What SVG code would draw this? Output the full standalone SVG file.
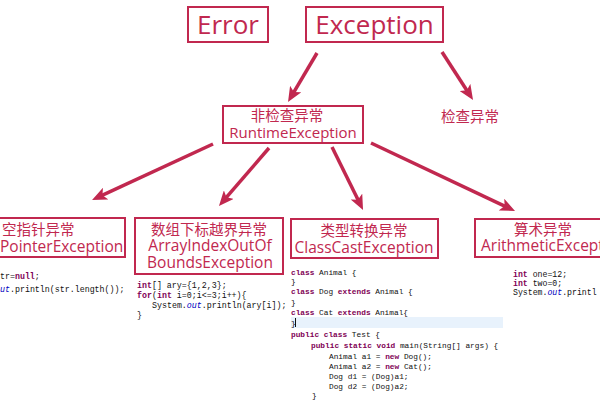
<svg xmlns="http://www.w3.org/2000/svg" width="600" height="400" viewBox="0 0 600 400">
<style>
.box{fill:none;stroke:#c1284f;stroke-width:2}
.lbl{font-family:"Open Sans","Noto Sans CJK SC",sans-serif;fill:#c1284f;text-anchor:middle}
.big{font-size:26px}
.mid{font-size:15.5px}
.cn{font-size:14.5px}
.arr{stroke:#c1284f;stroke-width:3.5;fill:none;marker-end:url(#ah)}
.code{font-family:"Liberation Mono","DejaVu Sans Mono",monospace;fill:#111}
.kw{fill:#7f0055;font-weight:bold}
.fld{fill:#0000c0;font-style:italic}
</style>
<defs>
<marker id="ah" viewBox="0 0 15 13" refX="7" refY="6.5" markerWidth="15" markerHeight="13" markerUnits="userSpaceOnUse" orient="auto">
<path d="M0,0 L15,6.5 L0,13 L3.5,6.5 z" fill="#c1284f"/>
</marker>
</defs>
<rect width="600" height="400" fill="#fff"/>

<g id="connectors">
<path class="arr" d="M317,53 L292.1,95.1"/>
<path class="arr" d="M442,52 L468.7,93.3"/>
<path class="arr" d="M213,144 L99.3,196.6"/>
<path class="arr" d="M269,148 L224.2,199.9"/>
<path class="arr" d="M332,147 L359.5,202.8"/>
<path class="arr" d="M371,143 L507.8,207.6"/>
</g>

<g id="error">
<rect class="box" x="188" y="7" width="80" height="35"/>
<text class="lbl big" x="228" y="34">Error</text>
</g>
<g id="exception">
<rect class="box" x="306" y="7" width="137" height="35"/>
<text class="lbl big" x="374.5" y="34">Exception</text>
</g>
<g id="checked">
<text class="lbl cn" x="470" y="122">检查异常</text>
</g>
<g id="runtime">
<rect class="box" x="223" y="106" width="140" height="37"/>
<text class="lbl cn" x="287" y="121">非检查异常</text>
<text class="lbl mid" x="293" y="138" style="font-size:15px">RuntimeException</text>
</g>

<g id="npe">
<rect class="box" x="-30" y="218" width="155" height="39"/>
<text class="lbl cn" x="2" y="235" style="text-anchor:start">空指针异常</text>
<text class="lbl mid" x="0" y="252" style="text-anchor:start">PointerException</text>
<text class="code" font-size="8.3" x="0" y="279">tr=<tspan class="kw">null</tspan>;</text>
<text class="code" font-size="8.3" x="0" y="292"><tspan class="fld">ut</tspan>.println(str.length());</text>
</g>

<g id="aioobe">
<rect class="box" x="135" y="218" width="148" height="56"/>
<text class="lbl cn" x="209" y="235">数组下标越界异常</text>
<text class="lbl mid" x="210" y="251">ArrayIndexOutOf</text>
<text class="lbl mid" x="210" y="268">BoundsException</text>
<text class="code" font-size="8.3" x="137" y="288"><tspan class="kw">int</tspan>[] ary={1,2,3};</text>
<text class="code" font-size="8.3" x="137" y="298"><tspan class="kw">for</tspan>(<tspan class="kw">int</tspan> i=0;i&lt;=3;i++){</text>
<text class="code" font-size="8.3" x="152" y="308">System.<tspan class="fld">out</tspan>.println(ary[i]);</text>
<text class="code" font-size="8.3" x="137" y="318">}</text>
</g>

<g id="cce">
<rect class="box" x="291" y="219" width="147" height="39"/>
<text class="lbl cn" x="364" y="236">类型转换异常</text>
<text class="lbl mid" x="364" y="253">ClassCastException</text>
<rect x="291" y="317" width="212" height="11" fill="#e8f2fc"/>
<line x1="295.5" y1="318" x2="295.5" y2="327" stroke="#111" stroke-width="1"/>
<g class="code" font-size="7.8">
<text x="291" y="275"><tspan class="kw">class</tspan> Animal {</text>
<text x="291" y="284">}</text>
<text x="291" y="294"><tspan class="kw">class</tspan> Dog <tspan class="kw">extends</tspan> Animal {</text>
<text x="291" y="305">}</text>
<text x="291" y="315"><tspan class="kw">class</tspan> Cat <tspan class="kw">extends</tspan> Animal{</text>
<text x="291" y="326">}</text>
<text x="291" y="337"><tspan class="kw">public</tspan> <tspan class="kw">class</tspan> Test {</text>
<text x="311" y="348"><tspan class="kw">public</tspan> <tspan class="kw">static</tspan> <tspan class="kw">void</tspan> main(String[] args) {</text>
<text x="329" y="359">Animal a1 = <tspan class="kw">new</tspan> Dog();</text>
<text x="329" y="369">Animal a2 = <tspan class="kw">new</tspan> Cat();</text>
<text x="329" y="379">Dog d1 = (Dog)a1;</text>
<text x="329" y="389">Dog d2 = (Dog)a2;</text>
<text x="312" y="398">}</text>
</g>
</g>

<g id="ae">
<rect class="box" x="475" y="219" width="140" height="38"/>
<text class="lbl cn" x="543" y="235">算术异常</text>
<text class="lbl mid" x="481" y="251" style="text-anchor:start">ArithmeticExcept</text>
<text class="code" font-size="8.2" x="513" y="277"><tspan class="kw">int</tspan> one=12;</text>
<text class="code" font-size="8.2" x="513" y="286"><tspan class="kw">int</tspan> two=0;</text>
<text class="code" font-size="8.2" x="513" y="295">System.<tspan class="fld">out</tspan>.printl</text>
</g>
</svg>
